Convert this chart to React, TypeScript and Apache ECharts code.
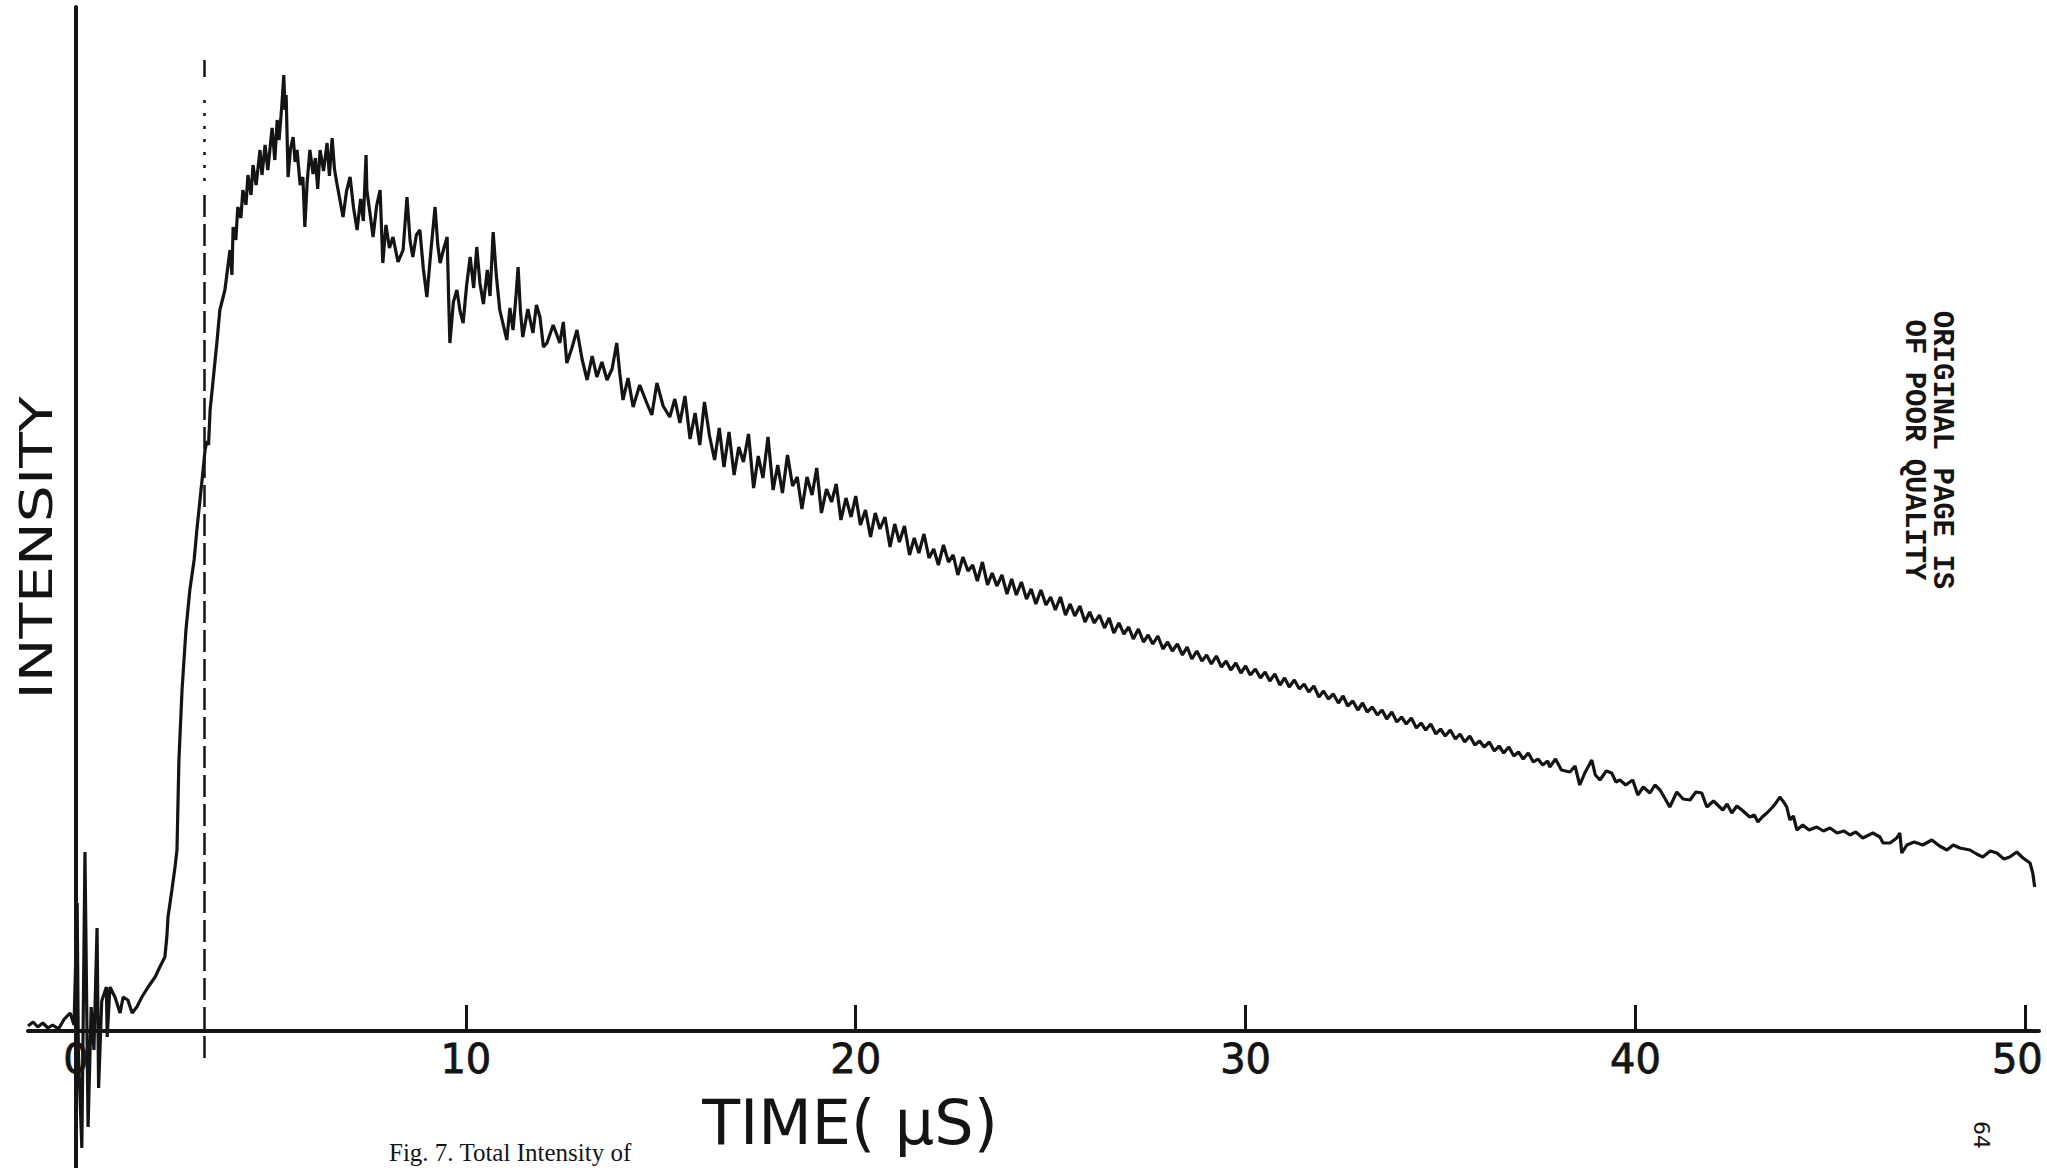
import React, { useEffect, useRef } from "react";
import * as echarts from "echarts";

// Time axis (microseconds)
const timeTickLabels = [0, 10, 20, 30, 40, 50];
const timeTickMarks = [10, 20, 30, 40, 50];

// Trace samples: [time (µs), intensity (arb. units)]
const onsetSamples: [number, number][] = [
  [-1.23, 0.5], [-1.1, 0.9], [-0.98, 0.4], [-0.85, 0.8], [-0.72, 0.3], [-0.6, 0.6], [-0.45, 0.2],
  [-0.3, 1.2], [-0.15, 1.8], [-0.05, 0.6], [0.03, 12.8], [0.06, -1.9], [0.15, -11.7], [0.23, 17.9],
  [0.31, -9.6], [0.39, 2.4], [0.46, -1.9], [0.54, 10.3], [0.58, -5.7], [0.66, 3.0], [0.78, 4.4],
  [0.8, -0.6], [0.87, 4.4], [1.0, 3.4], [1.13, 1.8], [1.21, 3.4], [1.33, 3.1], [1.44, 1.8],
  [1.56, 2.4], [1.69, 3.4], [1.85, 4.4], [2.03, 5.4], [2.15, 6.4], [2.28, 7.4], [2.33, 9.4],
  [2.36, 11.4], [2.46, 14.1], [2.54, 16.4], [2.59, 18.1],
];

const riseSamples: [number, number][] = [
  [2.64, 27.1], [2.72, 34.1], [2.82, 40.1], [2.92, 44.1], [3.03, 47.1], [3.1, 50.1], [3.18, 53.1],
  [3.26, 56.1], [3.31, 58.1], [3.36, 59.0], [3.4, 58.6], [3.44, 62.1], [3.51, 64.8], [3.62, 69.1],
  [3.69, 72.1], [3.82, 74.1], [3.9, 76.6], [3.95, 78.1], [4.0, 75.6], [4.03, 80.4], [4.1, 79.1],
  [4.15, 82.4], [4.23, 81.3], [4.28, 84.1], [4.36, 82.6], [4.41, 85.6], [4.49, 83.6], [4.54, 86.6],
  [4.62, 84.6], [4.72, 88.1], [4.77, 85.6], [4.85, 88.6], [4.92, 86.1], [5.03, 90.3], [5.1, 87.1],
  [5.16, 91.1], [5.21, 89.1], [5.28, 92.6], [5.33, 95.6], [5.36, 92.1], [5.39, 93.6],
];

const decaySamples: [number, number][] = [
  [5.44, 85.4], [5.5, 88.2], [5.57, 89.4], [5.62, 86.9], [5.67, 88.1], [5.75, 84.6], [5.82, 85.4],
  [5.87, 80.4], [5.93, 84.9], [6.0, 88.1], [6.08, 85.7], [6.14, 87.3], [6.2, 84.2], [6.26, 88.1],
  [6.35, 86.0], [6.44, 88.8], [6.5, 85.5], [6.57, 89.3], [6.63, 86.2], [6.69, 84.8], [6.77, 83.1],
  [6.85, 81.4], [6.94, 84.0], [7.03, 85.4], [7.12, 82.3], [7.21, 80.1], [7.3, 83.2], [7.37, 81.0],
  [7.44, 87.6], [7.46, 84.1], [7.54, 81.8], [7.62, 79.4], [7.71, 82.5], [7.8, 84.1], [7.87, 76.8],
  [7.95, 80.6], [8.04, 78.3], [8.13, 79.4], [8.26, 76.9], [8.39, 78.1], [8.49, 83.4], [8.57, 79.0],
  [8.64, 77.4], [8.73, 79.6], [8.82, 80.1], [8.91, 76.2], [9.0, 73.4], [9.1, 77.9], [9.21, 82.4],
  [9.28, 78.6], [9.34, 76.8], [9.43, 78.2], [9.52, 79.4], [9.56, 73.0], [9.59, 68.8], [9.68, 72.9],
  [9.77, 74.1], [9.85, 72.0], [9.93, 70.8], [10.02, 74.6], [10.11, 77.4], [10.2, 74.3], [10.28, 78.4],
  [10.36, 74.8], [10.45, 72.7], [10.55, 76.1], [10.62, 73.5], [10.7, 79.9], [10.78, 75.6],
  [10.87, 72.1], [10.96, 70.6], [11.05, 69.1], [11.13, 72.3], [11.21, 70.1], [11.28, 73.2],
  [11.34, 76.4], [11.4, 72.0], [11.46, 69.4], [11.59, 72.2], [11.72, 69.8], [11.81, 72.6],
  [11.9, 71.4], [11.99, 68.4], [12.08, 68.8], [12.24, 70.6], [12.41, 68.8], [12.5, 70.9],
  [12.59, 66.8], [12.72, 68.3], [12.85, 70.1], [12.98, 67.2], [13.11, 65.1], [13.24, 67.5],
  [13.36, 65.4], [13.49, 66.9], [13.62, 65.1], [13.75, 66.2], [13.87, 68.8], [13.95, 65.7],
  [14.03, 63.1], [14.16, 65.3], [14.29, 62.4], [14.46, 64.6], [14.64, 62.8], [14.77, 61.6],
  [14.9, 64.8], [15.06, 62.5], [15.23, 61.4], [15.36, 63.2], [15.49, 60.8],
];

const midSamples: [number, number][] = [
  [15.62, 63.5], [15.75, 59.2], [15.88, 61.8], [16.0, 58.6], [16.12, 62.9], [16.25, 59.5],
  [16.38, 57.1], [16.5, 60.3], [16.62, 56.4], [16.75, 59.9], [16.88, 55.6], [17.0, 58.4],
  [17.12, 56.9], [17.25, 59.7], [17.38, 54.3], [17.5, 57.5], [17.62, 55.3], [17.75, 59.4],
  [17.88, 54.1], [18.0, 56.6], [18.12, 53.8], [18.25, 57.6], [18.38, 54.5], [18.5, 55.4],
  [18.62, 52.2], [18.75, 55.4], [18.88, 53.6], [19.0, 56.3], [19.12, 51.8], [19.25, 54.2],
  [19.38, 52.9], [19.5, 54.7], [19.62, 51.1], [19.75, 53.3], [19.88, 51.4], [20.0, 53.5],
  [20.12, 50.6], [20.25, 52.1], [20.38, 49.4], [20.5, 51.8], [20.62, 50.2], [20.75, 51.4],
  [20.88, 48.4], [21.0, 50.7], [21.12, 48.9], [21.25, 50.5], [21.38, 47.6], [21.5, 49.3],
  [21.62, 47.8], [21.75, 49.7], [21.88, 47.3], [22.0, 48.2], [22.12, 46.6], [22.25, 48.6],
  [22.38, 46.9], [22.5, 47.6], [22.62, 45.6], [22.75, 47.4], [22.88, 46.0], [23.0, 46.6],
  [23.12, 45.0], [23.25, 46.9], [23.38, 44.6], [23.5, 45.8], [23.62, 44.5], [23.75, 45.6],
  [23.88, 43.7], [24.0, 45.2], [24.12, 43.6], [24.25, 44.9], [24.38, 43.2], [24.5, 44.2],
  [24.62, 42.7], [24.75, 44.1], [24.88, 42.6], [25.0, 43.4], [25.12, 42.1], [25.25, 43.4],
  [25.38, 41.6], [25.5, 42.7], [25.62, 41.5], [25.75, 42.5], [25.88, 40.9], [26.0, 41.9],
  [26.12, 40.8], [26.25, 41.6], [26.38, 40.3], [26.5, 41.3], [26.62, 39.8], [26.75, 40.8],
  [26.88, 39.7], [27.0, 40.4], [27.12, 39.2], [27.25, 40.2], [27.38, 38.9], [27.5, 39.6],
  [27.62, 38.7], [27.75, 39.5], [27.88, 38.2], [28.0, 38.9], [28.12, 38.0], [28.25, 38.7],
  [28.38, 37.6], [28.5, 38.4], [28.62, 37.2], [28.75, 38.0], [28.88, 37.0], [29.0, 37.6],
  [29.12, 36.7], [29.25, 37.5], [29.38, 36.4], [29.5, 37.0], [29.62, 36.1], [29.75, 36.8],
  [29.88, 35.8], [30.0, 36.5], [30.12, 35.6], [30.25, 36.2], [30.38, 35.3], [30.5, 35.9],
  [30.62, 35.0], [30.75, 35.7], [30.88, 34.6], [31.0, 35.3], [31.12, 34.4], [31.25, 35.1],
  [31.38, 34.2], [31.5, 34.7], [31.62, 33.9], [31.75, 34.5], [31.88, 33.4], [32.0, 34.0],
  [32.12, 33.2], [32.25, 33.7], [32.38, 32.8], [32.5, 33.5], [32.62, 32.5], [32.75, 33.0],
  [32.88, 32.1], [33.0, 32.8], [33.12, 31.9], [33.25, 32.4], [33.38, 31.6], [33.5, 32.1],
  [33.62, 31.2], [33.75, 31.9], [33.88, 30.9], [34.0, 31.4], [34.12, 30.7], [34.25, 31.3],
  [34.38, 30.3], [34.5, 30.8], [34.62, 30.1], [34.75, 30.7], [34.88, 29.7], [35.0, 30.2],
  [35.12, 29.5], [35.25, 30.1], [35.38, 29.2], [35.5, 29.7], [35.62, 28.9], [35.75, 29.5],
  [35.88, 28.6], [36.0, 29.0], [36.12, 28.4], [36.25, 28.9], [36.38, 28.0], [36.5, 28.5],
  [36.62, 27.8], [36.75, 28.4], [36.88, 27.5], [37.0, 27.9], [37.12, 27.2], [37.25, 27.8],
  [37.38, 26.9], [37.5, 27.2], [37.62, 26.6], [37.75, 27.0],
];

const tailSamples: [number, number][] = [
  [37.8, 26.4], [37.95, 27.2], [38.1, 26.1], [38.32, 25.9], [38.45, 26.5], [38.57, 24.6],
  [38.7, 25.8], [38.88, 27.1], [38.97, 25.6], [39.09, 25.1], [39.25, 26.0], [39.39, 25.8],
  [39.5, 24.9], [39.6, 25.1], [39.75, 24.6], [39.93, 25.1], [40.06, 23.6], [40.2, 24.4],
  [40.37, 23.8], [40.5, 24.6], [40.63, 24.1], [40.75, 23.3], [40.88, 22.4], [41.06, 23.9],
  [41.22, 23.2], [41.4, 23.1], [41.55, 23.9], [41.7, 23.8], [41.83, 22.4], [42.0, 23.0],
  [42.24, 22.1], [42.35, 22.7], [42.47, 21.8], [42.6, 22.5], [42.73, 22.1], [42.93, 21.4],
  [43.05, 21.6], [43.14, 20.9], [43.25, 21.4], [43.37, 21.8], [43.52, 22.4], [43.62, 22.9],
  [43.7, 23.4], [43.8, 22.9], [43.88, 22.4], [43.96, 21.1], [44.05, 21.5], [44.14, 20.1],
  [44.29, 20.6], [44.45, 20.1], [44.65, 20.4], [44.82, 20.0], [44.99, 20.3], [45.17, 19.8],
  [45.35, 20.0], [45.5, 19.6], [45.65, 19.9], [45.83, 19.3], [46.09, 19.8], [46.27, 19.4],
  [46.35, 18.8], [46.53, 18.8], [46.7, 19.3], [46.78, 19.8], [46.83, 17.8], [46.96, 18.6],
  [47.15, 18.9], [47.37, 18.6], [47.6, 19.1], [47.8, 18.5], [47.99, 18.1], [48.15, 18.6],
  [48.32, 18.3], [48.58, 18.1], [48.75, 17.7], [48.91, 17.4], [49.1, 18.0], [49.27, 17.8],
  [49.45, 17.2], [49.6, 17.4], [49.78, 17.9], [49.94, 17.3], [50.05, 17.0], [50.12, 16.8],
  [50.19, 15.8], [50.24, 14.4],
];

// Vertical trigger marker
const markerTime = 3.28;

export default function App() {
  const ref = useRef<HTMLDivElement>(null);

  useEffect(() => {
    const el = ref.current;
    if (!el) return;
    const chart = echarts.init(el, null, { renderer: "svg" });
    const ink = "#141414";
    const trace = [...onsetSamples, ...riseSamples, ...decaySamples, ...midSamples, ...tailSamples];
    const lastTick = timeTickLabels[timeTickLabels.length - 1];

    // Tick labels placed on the time axis through the chart's own scales
    const tickLabelData = timeTickLabels.map((t) => ({
      value: [t, 0],
      label: t === lastTick ? { offset: [-8, 0] } : undefined,
    }));

    const centered = (text: string, x: number, y: number, size: number, family: string, extra: any = {}) => ({
      type: "text",
      x,
      y,
      ...extra,
      style: {
        text,
        fill: ink,
        fontSize: size,
        fontFamily: family,
        fontWeight: extra.fontWeight || "normal",
        lineHeight: extra.lineHeight || size,
        align: "center",
        verticalAlign: "middle",
        textAlign: "center",
        textVerticalAlign: "middle",
      },
    });

    chart.setOption({
      animation: false,
      backgroundColor: "#ffffff",
      grid: { left: 28, right: 8, top: 7, bottom: 0, containLabel: false, outerBoundsMode: "none" },
      xAxis: {
        type: "value",
        min: -1.231,
        max: 50.35,
        axisLine: { show: true, onZero: true, lineStyle: { color: ink, width: 4 } },
        axisTick: {
          show: true,
          inside: true,
          length: 26,
          customValues: timeTickMarks,
          lineStyle: { color: ink, width: 3 },
        },
        axisLabel: { show: false },
        splitLine: { show: false },
      },
      yAxis: {
        type: "value",
        min: -13.7,
        max: 102.4,
        axisLine: { show: true, onZero: true, lineStyle: { color: ink, width: 4 } },
        axisTick: { show: false },
        axisLabel: { show: false },
        splitLine: { show: false },
      },
      series: [
        {
          type: "line",
          data: trace,
          symbol: "none",
          showSymbol: false,
          lineStyle: { color: ink, width: 3.2 },
          z: 3,
          markLine: {
            silent: true,
            symbol: ["none", "none"],
            label: { show: false },
            lineStyle: { color: ink, width: 2.5, type: [22, 7] },
            data: [
              [{ coord: [markerTime, 97.1], lineStyle: { type: "solid" } }, { coord: [markerTime, 95.4] }],
              [{ coord: [markerTime, 93.1], lineStyle: { type: [3, 10] } }, { coord: [markerTime, 84.1] }],
              [{ coord: [markerTime, 83.6] }, { coord: [markerTime, -3.2] }],
            ],
          },
        },
        {
          type: "scatter",
          data: tickLabelData,
          symbolSize: 1,
          itemStyle: { color: "rgba(0,0,0,0)" },
          silent: true,
          z: 4,
          label: {
            show: true,
            position: "bottom",
            distance: 8,
            color: ink,
            opacity: 1,
            fontSize: 40,
            lineHeight: 38,
            fontFamily: "DejaVu Sans",
            textBorderColor: ink,
            textBorderWidth: 0.8,
            formatter: (p: any) => String(p.value[0]),
          },
        },
      ],
      graphic: [
        centered("INTENSITY", 36, 548, 45, "DejaVu Sans", { rotation: Math.PI / 2, scaleX: 1.3 }),
        centered("TIME( μS)", 850, 1122, 62, "DejaVu Sans", { lineHeight: 50 }),
        centered("ORIGINAL PAGE IS", 1941, 450, 29, "Liberation Mono", { rotation: -Math.PI / 2, fontWeight: "bold" }),
        centered("OF POOR QUALITY", 1913, 450, 29, "Liberation Mono", { rotation: -Math.PI / 2, fontWeight: "bold" }),
        centered("64", 1981, 1135, 22, "DejaVu Sans", { rotation: -Math.PI / 2 }),
        {
          type: "text",
          x: 389,
          y: 1140,
          style: {
            text: "Fig. 7. Total Intensity of",
            fill: ink,
            fontSize: 25,
            fontFamily: "Liberation Serif",
            align: "left",
            verticalAlign: "top",
            textAlign: "left",
            textVerticalAlign: "top",
          },
        },
      ],
    });

    return () => chart.dispose();
  }, []);

  return (
    <div
      ref={ref}
      style={{ position: "fixed", left: 0, top: 0, width: 2047, height: 1168, background: "#ffffff" }}
    />
  );
}
